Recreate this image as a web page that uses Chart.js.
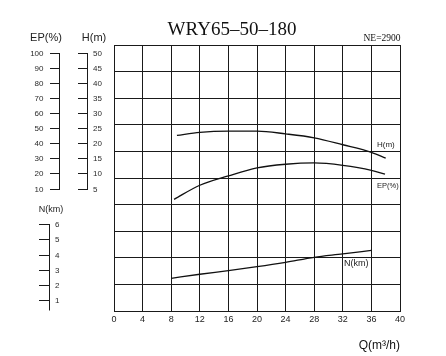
<!DOCTYPE html>
<html><head><meta charset="utf-8">
<script src="https://cdn.jsdelivr.net/npm/chart.js@4/dist/chart.umd.min.js"></script>
<style>html,body{margin:0;padding:0;background:#fff}#wrap{width:446px;height:356px}</style>
</head><body><div id="wrap"><canvas id="c" width="446" height="356"></canvas></div>
<script>
// ---- data ----
const chartTitle = 'WRY65–50–180';
const speedNote = 'NE=2900';
const flowTicks = [0, 4, 8, 12, 16, 20, 24, 28, 32, 36, 40];
const headQ = [8.8, 12, 16, 20, 24, 28, 32, 36, 38];
const headM = [22.6, 23.6, 24.0, 24.0, 23.1, 21.8, 19.5, 17.0, 15.1];
const effQ = [8.4, 12, 16, 20, 24, 28, 32, 36, 37.9];
const effPct = [2.9, 12.2, 18.4, 23.7, 26.1, 27.0, 25.4, 22.1, 19.5];
const powQ = [8, 12, 16, 20, 24, 28, 32, 36];
const powKW = [2.43, 2.70, 2.94, 3.20, 3.49, 3.82, 4.04, 4.28];
const effTicks = [10, 20, 30, 40, 50, 60, 70, 80, 90, 100];
const headTicks = [5, 10, 15, 20, 25, 30, 35, 40, 45, 50];
const powTicks = [1, 2, 3, 4, 5, 6];

const INK = '#1a1a1a';
const SANS = '"Liberation Sans", Arial, sans-serif';
const SERIF = '"Liberation Serif", "Times New Roman", serif';

const pts = (xs, ys) => xs.map((x, i) => ({x, y: ys[i]}));

const sideAxes = [
  {scale: 'yEP', ticks: effTicks, lineX: 59, tickFrom: 50, labelX: 43.5, align: 'right'},
  {scale: 'yH', ticks: headTicks, lineX: 87, tickFrom: 78, labelX: 93, align: 'left'},
  {scale: 'yN', ticks: powTicks, lineX: 49, tickFrom: 39, labelX: 55, align: 'left', lineEnd: 310}
];

const decor = {
  id: 'decor',
  afterDraw(chart) {
    const ctx = chart.ctx;
    ctx.save();
    // side axes
    sideAxes.forEach(a => {
      const sc = chart.scales[a.scale];
      const ys = a.ticks.map(v => Math.round(sc.getPixelForValue(v)) + 0.5);
      const top = Math.min(...ys);
      const bot = a.lineEnd !== undefined ? a.lineEnd : Math.max(...ys);
      ctx.strokeStyle = INK; ctx.lineWidth = 1;
      ctx.beginPath();
      ctx.moveTo(a.lineX + 0.5, top - 0.5); ctx.lineTo(a.lineX + 0.5, bot + 0.5);
      ys.forEach(y => { ctx.moveTo(a.tickFrom, y); ctx.lineTo(a.lineX + 1, y); });
      ctx.stroke();
      ctx.fillStyle = '#2a2a2a';
      ctx.font = '8px ' + SANS;
      ctx.textAlign = a.align; ctx.textBaseline = 'middle';
      a.ticks.forEach((v, i) => ctx.fillText(String(v), a.labelX, ys[i] + 0.5));
    });
    // side axis titles
    ctx.fillStyle = '#222'; ctx.textAlign = 'center'; ctx.textBaseline = 'middle';
    ctx.font = '11px ' + SANS;
    ctx.fillText('EP(%)', 46, 38);
    ctx.fillText('H(m)', 94, 38);
    ctx.font = '9px ' + SANS;
    ctx.fillText('N(km)', 51, 209.5);
    // title
    ctx.fillStyle = '#111';
    ctx.font = '19px ' + SERIF; ctx.textAlign = 'center'; ctx.textBaseline = 'alphabetic';
    ctx.fillText(chartTitle, 232, 35);
    ctx.font = '9.5px ' + SERIF; ctx.textAlign = 'right';
    ctx.fillText(speedNote, 400.5, 40.5);
    // curve labels
    ctx.textAlign = 'left'; ctx.textBaseline = 'middle'; ctx.fillStyle = '#222';
    ctx.font = '8px ' + SANS; ctx.fillText('H(m)', 377, 145);
    ctx.font = '7.5px ' + SANS; ctx.fillText('EP(%)', 377, 186);
    ctx.font = '9px ' + SANS; ctx.fillText('N(km)', 344, 264);
    ctx.restore();
  }
};

const lineStyle = {borderColor: '#111', borderWidth: 1.3, pointRadius: 0, fill: false, cubicInterpolationMode: 'monotone'};

new Chart(document.getElementById('c'), {
  type: 'line',
  data: {
    datasets: [
      Object.assign({label: 'H(m)', data: pts(headQ, headM), yAxisID: 'yH'}, lineStyle),
      Object.assign({label: 'EP(%)', data: pts(effQ, effPct), yAxisID: 'yEP'}, lineStyle),
      Object.assign({label: 'N(km)', data: pts(powQ, powKW), yAxisID: 'yN'}, lineStyle)
    ]
  },
  options: {
    responsive: false,
    animation: false,
    devicePixelRatio: 1,
    layout: {padding: {left: 114, right: 46, top: 45, bottom: 0}},
    plugins: {legend: {display: false}, tooltip: {enabled: false}, title: {display: false}},
    scales: {
      x: {
        type: 'linear', position: 'bottom', min: 0, max: 40,
        afterFit: s => { s.height = 45; },
        afterBuildTicks: s => { s.ticks = flowTicks.map(v => ({value: v})); },
        ticks: {padding: 3, color: '#222', autoSkip: false, maxRotation: 0, font: {family: SANS, size: 9}},
        grid: {color: INK, lineWidth: 1, drawTicks: false},
        border: {color: INK, width: 1},
        title: {display: true, text: 'Q(m³/h)', align: 'end', color: '#111', font: {family: SANS, size: 12}, padding: {top: 0, bottom: 3}}
      },
      y: {
        type: 'linear', position: 'left', min: 0, max: 10,
        afterFit: s => { s.width = 0; },
        ticks: {display: false, stepSize: 1},
        grid: {color: INK, lineWidth: 1, drawTicks: false},
        border: {color: INK, width: 1}
      },
      yH: {type: 'linear', display: false, min: -35.5, max: 52.5},
      yEP: {type: 'linear', display: false, min: -71, max: 105},
      yN: {type: 'linear', display: false, min: 0.27, max: 17.85}
    }
  },
  plugins: [decor]
});
</script>
</body></html>
